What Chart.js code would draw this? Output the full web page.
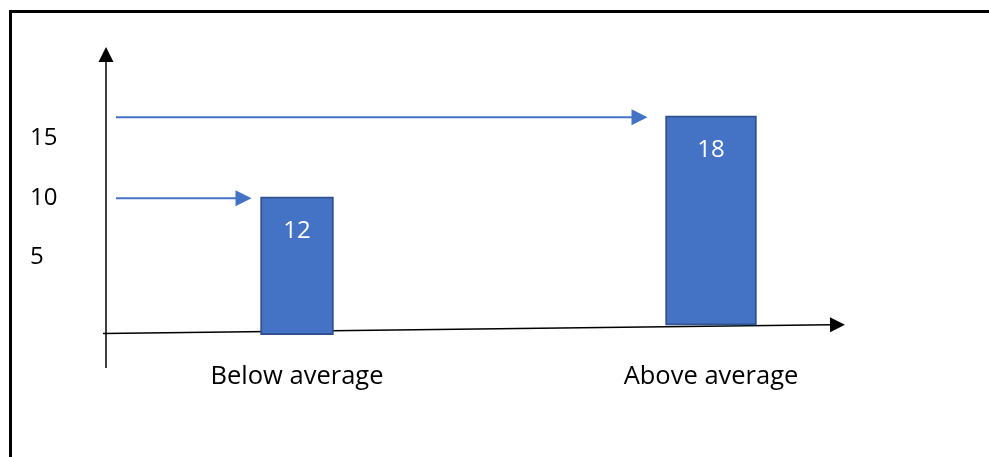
<!DOCTYPE html>
<html>
<head>
<meta charset="utf-8">
<script src="https://cdn.jsdelivr.net/npm/chart.js@4.4.1/dist/chart.umd.min.js"></script>
<style>
  html, body { margin: 0; padding: 0; background: #fff; }
  #wrap { width: 989px; height: 457px; }
</style>
</head>
<body>
<div id="wrap"><canvas id="chart"></canvas></div>
<script>
const categories = ["Below average", "Above average"];
// where the bar ends sit against the drawn y axis
const barTops = [10.1, 16.9];
const barBottoms = [-1.5, -0.7];
// numbers written inside the bars
const barValues = [12, 18];
const tickValues = [5, 10, 15];

const blue = "#4472C4";
const blueEdge = "#2F528F";
const barWidths = [73, 91];
const arrowGaps = [9, 18];
const fontFamily = "'Open Sans', Lato, sans-serif";

function arrowHead(ctx, x, y, angle, len, half) {
    ctx.save();
    ctx.translate(x, y);
    ctx.rotate(angle);
    ctx.beginPath();
    ctx.moveTo(0, 0);
    ctx.lineTo(-len, -half);
    ctx.lineTo(-len, half);
    ctx.closePath();
    ctx.fill();
    ctx.restore();
}

const decorations = {
    id: "decorations",
    beforeDraw(chart) {
        const ctx = chart.ctx;
        ctx.save();
        ctx.fillStyle = "#000";
        ctx.fillRect(9, 10, 3, chart.height - 10);
        ctx.fillRect(9, 10, chart.width - 9, 3);
        ctx.restore();
    },
    beforeDatasetsDraw(chart) {
        const ctx = chart.ctx;
        const area = chart.chartArea;
        const y = chart.scales.y;
        const ax = area.left + 16;
        ctx.save();
        ctx.strokeStyle = "#000";
        ctx.fillStyle = "#000";
        ctx.lineWidth = 1.5;
        // y axis
        ctx.beginPath();
        ctx.moveTo(ax, area.bottom + 13);
        ctx.lineTo(ax, area.top + 15);
        ctx.stroke();
        arrowHead(ctx, ax, area.top + 2, -Math.PI / 2, 15, 7.5);
        // x axis, slightly tilted like the sketch
        const x0 = ax - 3, y0 = y.getPixelForValue(-1.4);
        const x1 = area.right - 73, y1 = y.getPixelForValue(-0.65);
        const ang = Math.atan2(y1 - y0, x1 - x0);
        ctx.beginPath();
        ctx.moveTo(x0, y0);
        ctx.lineTo(x1 - 14 * Math.cos(ang), y1 - 14 * Math.sin(ang));
        ctx.stroke();
        arrowHead(ctx, x1, y1, ang, 15, 7.5);
        ctx.restore();
    },
    afterDatasetsDraw(chart) {
        const ctx = chart.ctx;
        const ax = chart.chartArea.left + 16;
        ctx.save();
        categories.forEach((c, i) => {
            const bar = chart.getDatasetMeta(i).data[i];
            const left = bar.x - bar.width / 2;
            const ay = bar.y + 1.5;
            const end = left - arrowGaps[i];
            ctx.strokeStyle = blue;
            ctx.fillStyle = blue;
            ctx.lineWidth = 2;
            ctx.beginPath();
            ctx.moveTo(ax + 10, ay);
            ctx.lineTo(end - 12, ay);
            ctx.stroke();
            arrowHead(ctx, end, ay, 0, 16, 8);

            ctx.fillStyle = "#fff";
            ctx.font = "24px " + fontFamily;
            ctx.textAlign = "center";
            ctx.textBaseline = "middle";
            ctx.fillText(String(barValues[i]), bar.x, bar.y + 34);
        });
        ctx.restore();
    }
};

const datasets = categories.map((c, i) => ({
    label: c,
    data: categories.map((_, j) => j === i ? [barBottoms[i], barTops[i]] : null),
    backgroundColor: blue,
    borderColor: blueEdge,
    borderWidth: 2,
    borderSkipped: false,
    barThickness: barWidths[i],
    grouped: false
}));

new Chart(document.getElementById("chart"), {
    type: "bar",
    data: { labels: categories, datasets: datasets },
    options: {
        responsive: true,
        maintainAspectRatio: false,
        animation: false,
        layout: { padding: { top: 45, left: 30, right: 71, bottom: 62 } },
        plugins: {
            legend: { display: false },
            tooltip: { enabled: false }
        },
        scales: {
            x: {
                grid: { display: false, drawTicks: false },
                border: { display: false },
                ticks: {
                    color: "#000",
                    padding: 6,
                    font: { family: fontFamily, size: 25.5 }
                },
                afterFit(scale) { scale.height = 40; }
            },
            y: {
                min: -3.2,
                max: 22.85,
                grid: { display: false, drawTicks: false },
                border: { display: false },
                afterBuildTicks(scale) {
                    scale.ticks = tickValues.map(v => ({ value: v }));
                },
                ticks: {
                    color: "#000",
                    crossAlign: "far",
                    font: { family: fontFamily, size: 24 }
                },
                afterFit(scale) { scale.width = 60; }
            }
        }
    },
    plugins: [decorations]
});
</script>
</body>
</html>
